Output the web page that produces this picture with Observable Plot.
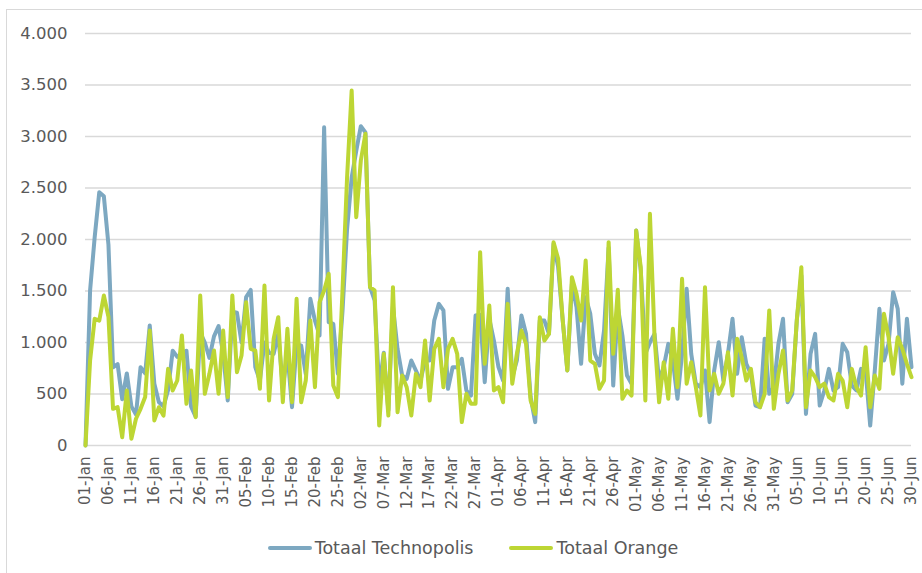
<!DOCTYPE html>
<html>
<head>
<meta charset="utf-8">
<script src="https://cdn.jsdelivr.net/npm/d3@7"></script>
<script src="https://cdn.jsdelivr.net/npm/@observablehq/plot@0.6"></script>
<style>
  html, body { margin: 0; padding: 0; background: #fff; }
  #wrap { position: relative; width: 922px; height: 573px; overflow: hidden; font-family: "DejaVu Sans", sans-serif; }
  #frame { position: absolute; left: 6px; top: 9px; width: 940px; height: 600px; border: 1px solid #d9d9d9; box-sizing: border-box; }
  #chart { position: absolute; left: 0; top: 0; }
  #legend { position: absolute; left: 12px; top: 534px; width: 922px; height: 28px; display: flex; justify-content: center; align-items: center; gap: 36px; color: #595959; font-size: 17.5px; }
  .item { display: flex; align-items: center; }
  .sw { display: inline-block; width: 44px; height: 4px; border-radius: 2px; margin-right: 3px; }
</style>
</head>
<body>
<div id="wrap">
  <div id="frame"></div>
  <div id="chart"></div>
  <div id="legend"></div>
</div>
<script>
const seriesNames = ["Totaal Technopolis", "Totaal Orange"];
const seriesColors = ["#7da8c1", "#bdd634"];

const tickLabels = ["01-Jan","06-Jan","11-Jan","16-Jan","21-Jan","26-Jan","31-Jan","05-Feb","10-Feb","15-Feb","20-Feb","25-Feb","02-Mar","07-Mar","12-Mar","17-Mar","22-Mar","27-Mar","01-Apr","06-Apr","11-Apr","16-Apr","21-Apr","26-Apr","01-May","06-May","11-May","16-May","21-May","26-May","31-May","05-Jun","10-Jun","15-Jun","20-Jun","25-Jun","30-Jun"];

const technopolis = [
  0,1505,2022,2459,2420,1950,760,790,450,700,
  380,300,760,700,1165,600,420,380,540,920,
  860,890,920,380,280,1100,1000,850,1060,1160,
  890,437,1300,1290,1000,1440,1510,760,631,1000,
  900,890,1084,566,900,372,987,970,696,1424,
  1213,1068,3090,1197,1181,696,1300,2100,2600,2860,
  3100,3040,1540,1408,560,900,340,1350,938,680,
  647,825,728,631,825,825,1213,1375,1311,550,
  760,760,841,534,485,1262,1270,615,1230,1019,
  760,631,1521,663,825,1262,1084,470,227,1213,
  1213,1084,1958,1731,1213,728,1570,1343,793,1440,
  1278,890,777,1116,1920,582,1343,1068,680,600,
  2087,1700,890,1000,1084,630,760,987,820,453,
  890,1521,890,600,566,728,227,728,1003,630,
  890,1230,696,1052,793,696,388,372,1036,502,
  566,987,1230,420,500,1213,1650,307,890,1084,
  388,534,744,534,566,987,906,582,534,744,
  728,194,728,1327,825,987,1489,1327,600,1230,
  760
];

const orange = [
  0,825,1230,1213,1456,1250,356,372,80,534,
  65,260,356,470,1116,243,372,290,744,534,
  631,1068,405,728,275,1456,502,696,922,502,
  1116,470,1456,712,874,1391,938,922,550,1553,
  437,1036,1246,420,1133,420,1424,420,631,1213,
  566,1391,1505,1667,582,470,1500,2600,3446,2217,
  2767,3026,1537,1505,194,890,291,1537,324,680,
  566,291,696,566,1019,437,938,1036,566,938,
  1036,890,227,502,405,405,1877,793,1359,534,
  566,420,1375,600,890,1116,987,437,307,1246,
  1019,1084,1974,1812,1213,728,1634,1472,1213,1796,
  825,793,550,631,1974,890,1511,453,534,485,
  2087,1731,437,2249,1052,420,809,453,1133,566,
  1618,600,809,566,291,1537,534,696,502,600,
  906,485,1036,858,631,744,420,372,502,1311,
  356,696,922,437,534,1213,1731,372,728,663,
  566,600,470,437,696,631,372,744,566,485,
  955,372,680,550,1278,1052,696,1052,938,793,
  663
];

const yTicks = [0,500,1000,1500,2000,2500,3000,3500,4000];

const rows = [];
[technopolis, orange].forEach((arr, s) => {
  arr.forEach((v, i) => rows.push({day: i, value: v, series: seriesNames[s]}));
});

const fmt = v => d3.format(",")(v).replace(/,/g, ".");
const xTicks = tickLabels.map((_, i) => i * 5);

const chart = Plot.plot({
  width: 922,
  height: 525,
  marginLeft: 85,
  marginRight: 11,
  marginTop: 33,
  marginBottom: 80,
  style: {fontFamily: "DejaVu Sans, sans-serif", background: "transparent"},
  x: {domain: [0, 180], axis: null},
  y: {domain: [0, 4000], axis: null},
  color: {domain: seriesNames, range: seriesColors},
  marks: [
    Plot.ruleY(yTicks, {stroke: "#d9d9d9", strokeWidth: 1.6}),
    Plot.axisY(yTicks, {tickSize: 0, tickPadding: 18, tickFormat: fmt, fontSize: 16.5, fill: "#595959", anchor: "left", label: null}),
    Plot.axisX(xTicks, {
      tickSize: 0, tickPadding: 11, tickRotate: -90, fontSize: 15, fill: "#595959",
      tickFormat: (d) => tickLabels[d / 5], label: null, anchor: "bottom"
    }),
    Plot.line(rows, {x: "day", y: "value", z: "series", stroke: "series", strokeWidth: 4, strokeLinejoin: "round", strokeLinecap: "round"})
  ]
});
document.getElementById("chart").appendChild(chart);

const legend = document.getElementById("legend");
seriesNames.forEach((n, i) => {
  const it = document.createElement("div");
  it.className = "item";
  const sw = document.createElement("span");
  sw.className = "sw";
  sw.style.background = seriesColors[i];
  const t = document.createElement("span");
  t.textContent = n;
  it.appendChild(sw); it.appendChild(t);
  legend.appendChild(it);
});
</script>
</body>
</html>
